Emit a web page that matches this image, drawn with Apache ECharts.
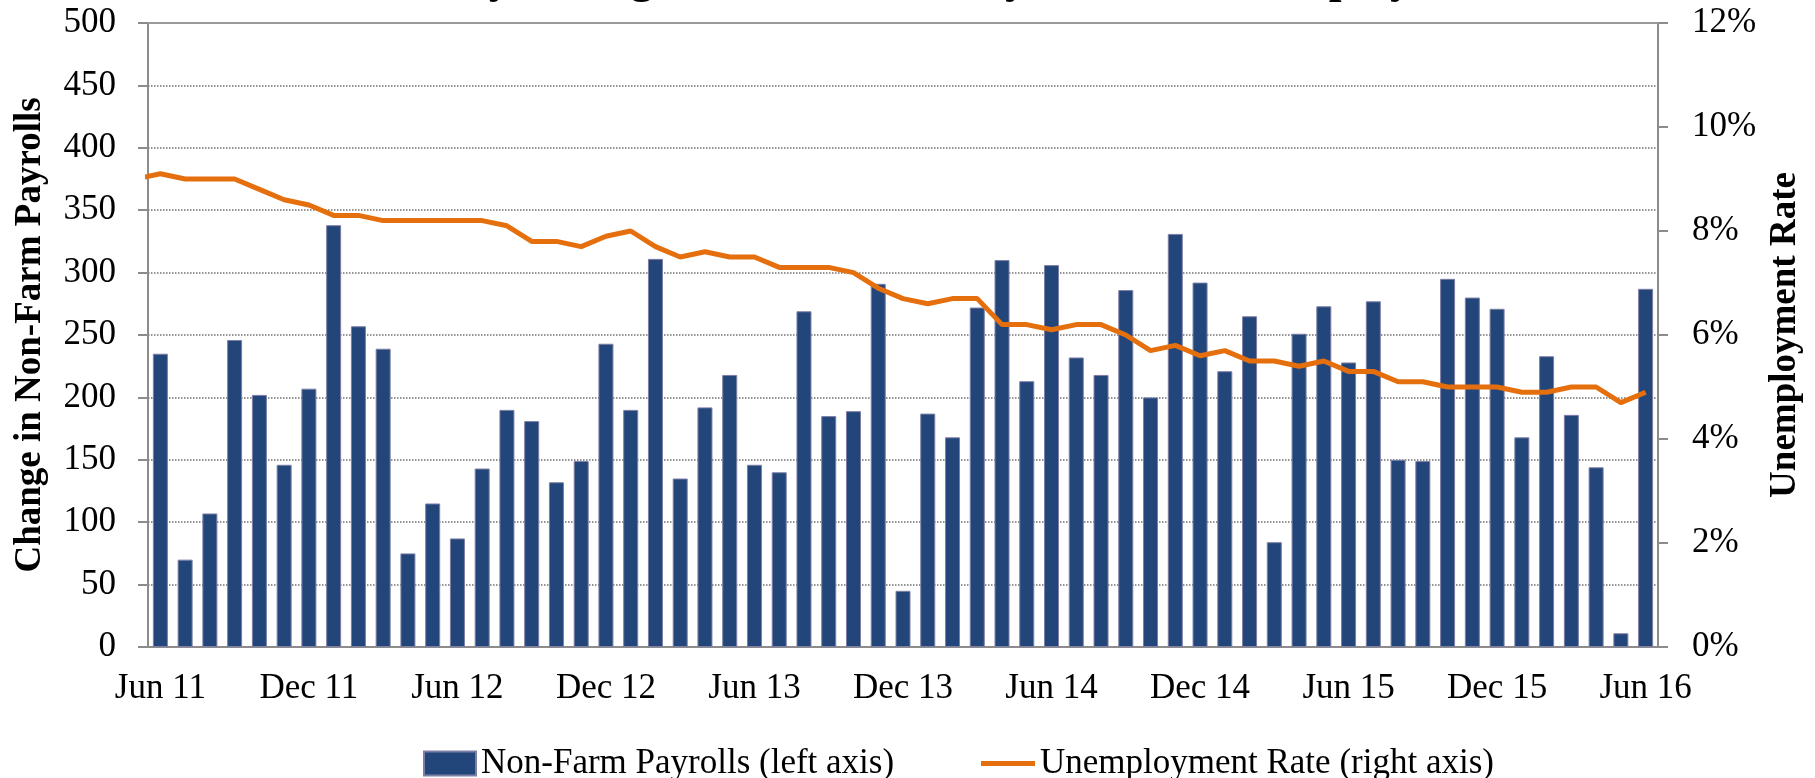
<!DOCTYPE html>
<html>
<head>
<meta charset="utf-8">
<title>Non-Farm Payrolls and Unemployment Rate</title>
<script src="https://cdn.jsdelivr.net/npm/echarts@6/dist/echarts.min.js"></script>
<style>
  html, body { margin: 0; padding: 0; background: #fff; }
  #chart { width: 1815px; height: 778px; }
</style>
</head>
<body>
<div id="chart"></div>
<script>
// months shown on the category axis (Jun 2011 - Jun 2016)
var months = [
  'Jun 11', 'Jul 11', 'Aug 11', 'Sep 11', 'Oct 11', 'Nov 11', 'Dec 11',
  'Jan 12', 'Feb 12', 'Mar 12', 'Apr 12', 'May 12', 'Jun 12', 'Jul 12', 'Aug 12', 'Sep 12', 'Oct 12', 'Nov 12', 'Dec 12',
  'Jan 13', 'Feb 13', 'Mar 13', 'Apr 13', 'May 13', 'Jun 13', 'Jul 13', 'Aug 13', 'Sep 13', 'Oct 13', 'Nov 13', 'Dec 13',
  'Jan 14', 'Feb 14', 'Mar 14', 'Apr 14', 'May 14', 'Jun 14', 'Jul 14', 'Aug 14', 'Sep 14', 'Oct 14', 'Nov 14', 'Dec 14',
  'Jan 15', 'Feb 15', 'Mar 15', 'Apr 15', 'May 15', 'Jun 15', 'Jul 15', 'Aug 15', 'Sep 15', 'Oct 15', 'Nov 15', 'Dec 15',
  'Jan 16', 'Feb 16', 'Mar 16', 'Apr 16', 'May 16', 'Jun 16'
];

// change in non-farm payrolls, thousands (left axis)
var payrolls = [
  235, 70, 107, 246, 202, 146, 207,
  338, 257, 239, 75, 115, 87, 143, 190, 181, 132, 149, 243,
  190, 311, 135, 192, 218, 146, 140, 269, 185, 189, 291, 45,
  187, 168, 272, 310, 213, 306, 232, 218, 286, 200, 331, 292,
  221, 265, 84, 251, 273, 228, 277, 150, 149, 295, 280, 271,
  168, 233, 186, 144, 11, 287
];

// unemployment rate, % (right axis); the May 11 point sits just left of the plot
var rateMay11 = 9.0;
var unemployment = [
  9.1, 9.0, 9.0, 9.0, 8.8, 8.6, 8.5,
  8.3, 8.3, 8.2, 8.2, 8.2, 8.2, 8.2, 8.1, 7.8, 7.8, 7.7, 7.9,
  8.0, 7.7, 7.5, 7.6, 7.5, 7.5, 7.3, 7.3, 7.3, 7.2, 6.9, 6.7,
  6.6, 6.7, 6.7, 6.2, 6.2, 6.1, 6.2, 6.2, 6.0, 5.7, 5.8, 5.6,
  5.7, 5.5, 5.5, 5.4, 5.5, 5.3, 5.3, 5.1, 5.1, 5.0, 5.0, 5.0,
  4.9, 4.9, 5.0, 5.0, 4.7, 4.9
];

var leftTicks = { min: 0, max: 500, interval: 50 };
var rightTicks = { min: 0, max: 12, interval: 2 };

var FONT = '"Liberation Serif", "Times New Roman", serif';
var AXIS_GREY = '#8c8c8c';
var NAVY = '#23467a';
var ORANGE = '#e66f0d';

// line points on a hidden value axis so the first segment can be clipped like the original
var rateData = [[-1, rateMay11]];
for (var i = 0; i < unemployment.length; i++) {
  rateData.push([i, unemployment[i]]);
}

var chart = echarts.init(document.getElementById('chart'));

var legendText = { fontFamily: FONT, fontSize: 35, color: '#000' };

chart.setOption({
  backgroundColor: '#ffffff',
  animation: false,
  // title sits mostly above the page edge, only its descenders show
  title: {
    text: 'Monthly Change in Non-Farm Payrolls and Unemployment Rate',
    left: 338,
    top: -48,
    textStyle: { fontFamily: FONT, fontSize: 46, fontWeight: 'bold', color: '#000' }
  },
  grid: { left: 148, right: 157, top: 23, bottom: 131 },
  legend: [
    {
      left: 418,
      top: 741,
      itemWidth: 52,
      itemHeight: 24,
      textStyle: legendText,
      data: [{ name: 'Non-Farm Payrolls (left axis)', icon: 'rect' }]
    },
    {
      left: 976,
      top: 741,
      itemWidth: 54,
      itemHeight: 5,
      textStyle: legendText,
      data: [{ name: 'Unemployment Rate (right axis)', icon: 'rect', itemStyle: { color: ORANGE } }]
    }
  ],
  xAxis: [
    {
      type: 'category',
      data: months,
      boundaryGap: true,
      axisLine: { lineStyle: { color: AXIS_GREY, width: 2 } },
      axisTick: { interval: 5, length: 10, lineStyle: { color: AXIS_GREY, width: 2 } },
      axisLabel: { interval: 5, margin: 24, fontFamily: FONT, fontSize: 35, color: '#000' },
      splitLine: { show: false }
    },
    {
      type: 'value',
      min: -0.5,
      max: 60.5,
      position: 'top',
      axisLine: { show: true, onZero: false, lineStyle: { color: '#9a9a9a', width: 2 } },
      axisTick: { show: false },
      axisLabel: { show: false },
      splitLine: { show: false }
    }
  ],
  yAxis: [
    {
      type: 'value',
      min: leftTicks.min,
      max: leftTicks.max,
      interval: leftTicks.interval,
      name: 'Change in Non-Farm Payrolls',
      nameLocation: 'middle',
      nameGap: 99,
      nameTextStyle: { fontFamily: FONT, fontSize: 37, fontWeight: 'bold', color: '#000' },
      axisLine: { show: true, onZero: false, lineStyle: { color: AXIS_GREY, width: 2 } },
      axisTick: { show: true, length: 10, lineStyle: { color: AXIS_GREY, width: 2 } },
      axisLabel: { margin: 32, fontFamily: FONT, fontSize: 35, color: '#000' },
      splitLine: { show: true, lineStyle: { color: '#707070', width: 1.6, type: [1.5, 1.5] } }
    },
    {
      type: 'value',
      min: rightTicks.min,
      max: rightTicks.max,
      interval: rightTicks.interval,
      position: 'right',
      name: 'Unemployment Rate',
      nameLocation: 'middle',
      nameGap: 108,
      nameRotate: 90,
      nameTextStyle: { fontFamily: FONT, fontSize: 37, fontWeight: 'bold', color: '#000' },
      axisLine: { show: true, onZero: false, lineStyle: { color: AXIS_GREY, width: 2 } },
      axisTick: { show: true, length: 10, lineStyle: { color: AXIS_GREY, width: 2 } },
      axisLabel: { margin: 34, fontFamily: FONT, fontSize: 35, color: '#000', formatter: '{value}%' },
      splitLine: { show: false }
    }
  ],
  series: [
    {
      name: 'Non-Farm Payrolls (left axis)',
      type: 'bar',
      xAxisIndex: 0,
      yAxisIndex: 0,
      data: payrolls,
      barWidth: 15,
      itemStyle: { color: NAVY, borderColor: '#7d7ea6', borderWidth: 1 }
    },
    {
      name: 'Unemployment Rate (right axis)',
      type: 'line',
      xAxisIndex: 1,
      yAxisIndex: 1,
      data: rateData,
      symbol: 'none',
      clip: true,
      lineStyle: { color: ORANGE, width: 5 },
      itemStyle: { color: ORANGE }
    }
  ]
});
</script>
</body>
</html>
